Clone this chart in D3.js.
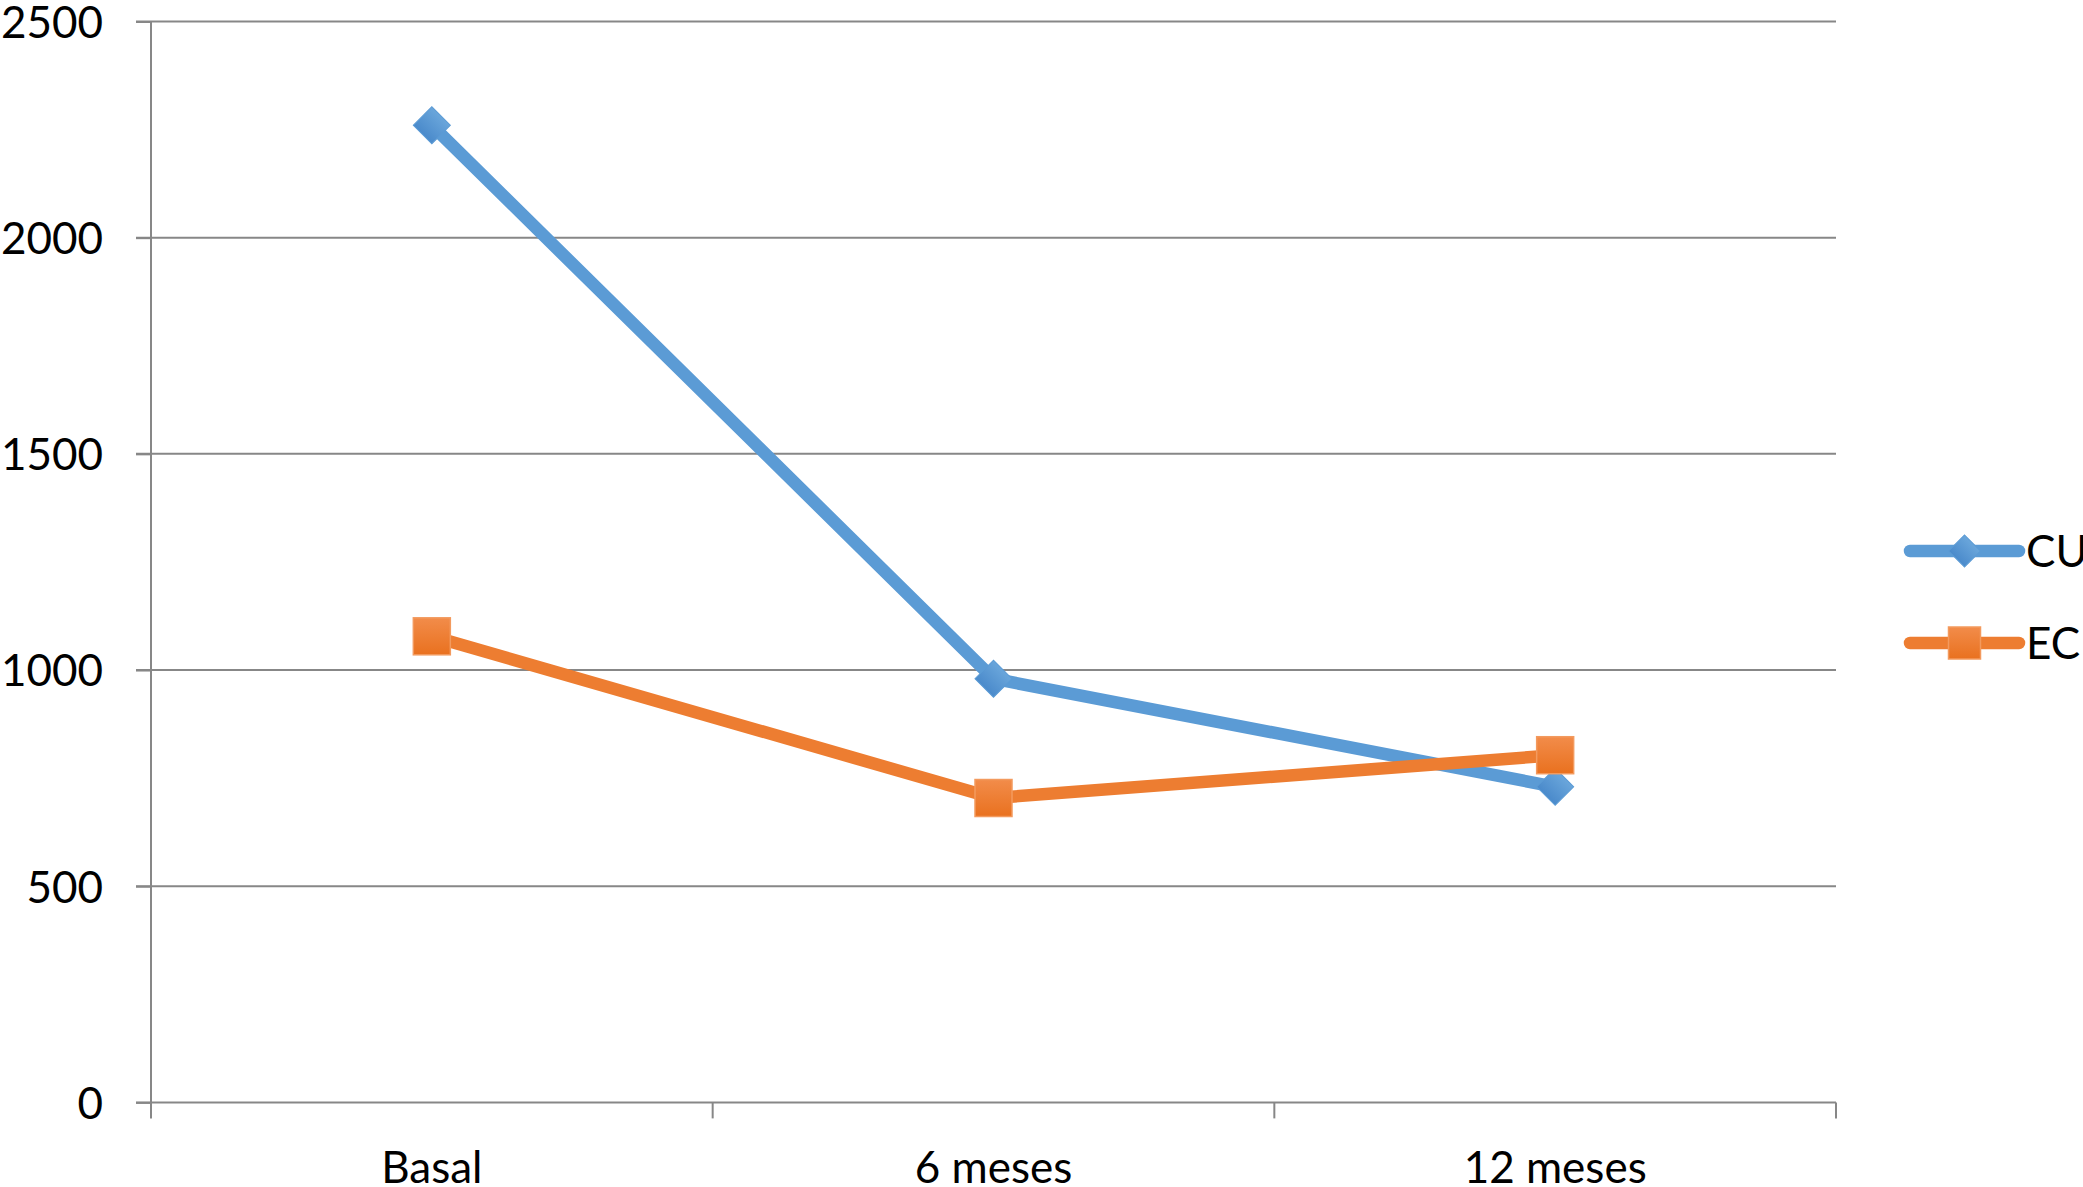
<!DOCTYPE html>
<html><head><meta charset="utf-8">
<script src="https://cdn.jsdelivr.net/npm/d3@7"></script>
<style>html,body{margin:0;padding:0;background:#fff;}svg{display:block;}</style>
</head><body>
<script>
const categories = ["Basal", "6 meses", "12 meses"];
const seriesNames = ["CU", "EC"];
const cuValues = [2260, 980, 730];
const ecValues = [1078, 704, 803];
const yTicks = [0, 500, 1000, 1500, 2000, 2500];

(function(){
const W = 2083, H = 1187;
const mLeft = 151, mRight = 1836, mTop = 21.5, mBottom = 1102.4;
const font = "Lato, 'Open Sans', sans-serif";
const gridColor = "#878787";
const colors = {CU: "#5B9BD5", EC: "#ED7D31"};

const svg = d3.select("body").append("svg").attr("width", W).attr("height", H);
const defs = svg.append("defs");
function grad(id, c1, c2){
  const g = defs.append("linearGradient").attr("id", id).attr("x1",0).attr("y1",0).attr("x2",0).attr("y2",1);
  g.append("stop").attr("offset","0%").attr("stop-color",c1);
  g.append("stop").attr("offset","100%").attr("stop-color",c2);
}
grad("gCU", "#6AA6DB", "#4A8ACB");
grad("gEC", "#F28C4A", "#E9711F");

const x = d3.scaleBand().domain(categories).range([mLeft, mRight]).paddingInner(0).paddingOuter(0);
const y = d3.scaleLinear().domain([0, 2500]).range([mBottom, mTop]);
const cx = c => x(c) + x.bandwidth() / 2;

// gridlines
svg.append("g").selectAll("line").data(yTicks).join("line")
  .attr("x1", mLeft - 15).attr("x2", mRight)
  .attr("y1", d => y(d)).attr("y2", d => y(d))
  .attr("stroke", gridColor).attr("stroke-width", 2);

// y axis
const yAxis = svg.append("g").attr("transform", `translate(${mLeft},0)`)
  .call(d3.axisLeft(y).tickValues(yTicks).tickSize(15).tickPadding(33).tickFormat(d3.format("d")));
yAxis.select(".domain").remove();
yAxis.selectAll(".tick line").attr("stroke", gridColor).attr("stroke-width", 2);
yAxis.selectAll("text").attr("font-family", font).attr("font-size", 44).attr("fill", "#000").attr("dy", "0.36em");
svg.append("line").attr("x1", mLeft).attr("x2", mLeft).attr("y1", mTop).attr("y2", mBottom + 16)
  .attr("stroke", gridColor).attr("stroke-width", 2);

// x axis ticks at band boundaries
const bounds = categories.map(c => x(c) + x.bandwidth());
svg.append("g").selectAll("line").data(bounds).join("line")
  .attr("x1", d => d).attr("x2", d => d).attr("y1", mBottom).attr("y2", mBottom + 16)
  .attr("stroke", gridColor).attr("stroke-width", 2);
svg.append("g").selectAll("text").data(categories).join("text")
  .attr("x", d => cx(d)).attr("y", 1183)
  .attr("text-anchor", "middle").attr("font-family", font).attr("font-size", 44).attr("fill", "#000")
  .text(d => d);

// lines
const line = d3.line().x(d => cx(d.c)).y(d => y(d.v));
const series = [
  {name: "CU", values: cuValues},
  {name: "EC", values: ecValues}
];
series.forEach(s => {
  const pts = categories.map((c, i) => ({c, v: s.values[i]}));
  svg.append("path").datum(pts).attr("d", line).attr("fill", "none")
    .attr("stroke", colors[s.name]).attr("stroke-width", 12.5).attr("stroke-linejoin", "round");
});
function drawMarker(g, name, px, py, s){
  if (name === "CU") {
    g.append("path").attr("transform", `translate(${px},${py}) rotate(45)`)
      .attr("d", d3.symbol().type(d3.symbolSquare).size((s/Math.SQRT2)*(s/Math.SQRT2))())
      .attr("fill", "url(#gCU)").attr("stroke", "#5B9BD5").attr("stroke-width", 1);
  } else {
    g.append("rect").attr("x", px - s/2).attr("y", py - s/2).attr("width", s).attr("height", s)
      .attr("fill", "url(#gEC)").attr("stroke", "#F39A5E").attr("stroke-width", 1.5);
  }
}
const mg = svg.append("g");
series.forEach(s => {
  categories.forEach((c, i) => drawMarker(mg, s.name, cx(c), y(s.values[i]), 37));
});

// legend
const legendY = [551, 643];
seriesNames.forEach((n, i) => {
  const g = svg.append("g");
  g.append("line").attr("x1", 1910).attr("x2", 2019).attr("y1", legendY[i]).attr("y2", legendY[i])
    .attr("stroke", colors[n]).attr("stroke-width", 12.5).attr("stroke-linecap", "round");
  drawMarker(g, n, 1964.5, legendY[i], 32);
  g.append("text").attr("x", 2026).attr("y", legendY[i]).attr("dy", "0.36em")
    .attr("font-family", font).attr("font-size", 44).attr("fill", "#000").text(n);
});
})();
</script>
</body></html>
